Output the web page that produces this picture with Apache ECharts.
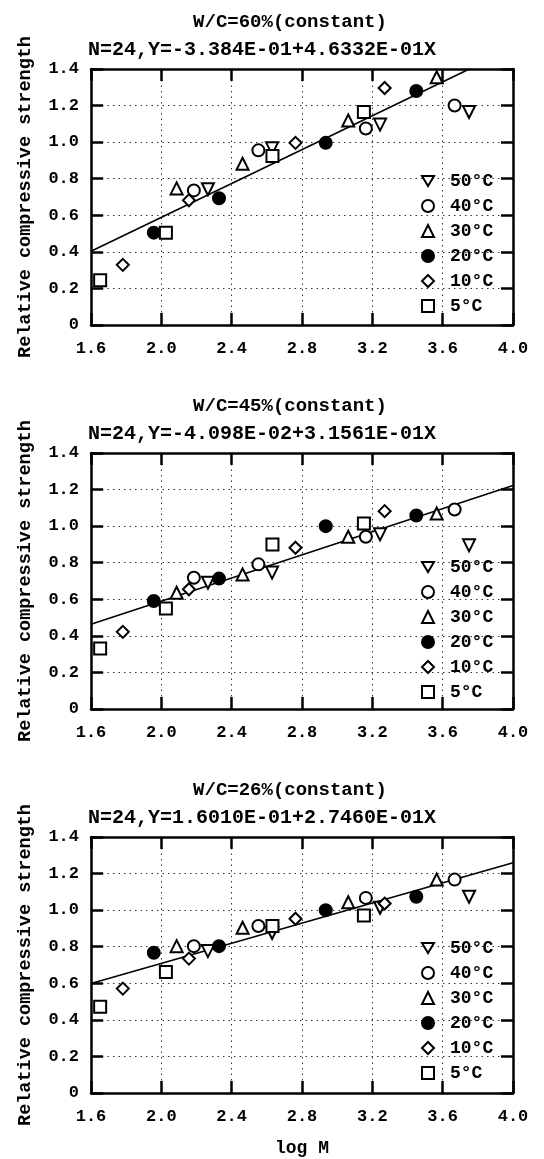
<!DOCTYPE html>
<html>
<head>
<meta charset="utf-8">
<script src="https://cdn.jsdelivr.net/npm/echarts@6/dist/echarts.min.js"></script>
<style>
    html, body { margin: 0; padding: 0; background: #fff; }
    #chart { width: 544px; height: 1159px; }
</style>
</head>
<body>
<div id="chart"></div>
<script>
// temperatures, legend order
const tempNames = ['50°C', '40°C', '30°C', '20°C', '10°C', '5°C'];

// log M (same curing ages for every W/C)
const logM50 = [2.265, 2.630, 3.244, 3.750];
const logM40 = [2.185, 2.552, 3.163, 3.668];
const logM30 = [2.087, 2.462, 3.063, 3.566];
const logM20 = [1.957, 2.328, 2.935, 3.450];
const logM10 = [1.781, 2.157, 2.763, 3.270];
const logM5 = [1.652, 2.026, 2.632, 3.152];

// relative compressive strength, W/C=60%
const wc60_50 = [0.742, 0.966, 1.096, 1.165];
const wc60_40 = [0.736, 0.955, 1.075, 1.200];
const wc60_30 = [0.747, 0.882, 1.118, 1.355];
const wc60_20 = [0.505, 0.693, 0.996, 1.280];
const wc60_10 = [0.329, 0.682, 0.996, 1.296];
const wc60_5 = [0.245, 0.505, 0.924, 1.165];

// W/C=45%
const wc45_50 = [0.691, 0.746, 0.955, 0.895];
const wc45_40 = [0.718, 0.791, 0.942, 1.091];
const wc45_30 = [0.636, 0.736, 0.942, 1.069];
const wc45_20 = [0.591, 0.713, 1.000, 1.058];
const wc45_10 = [0.422, 0.655, 0.882, 1.082];
const wc45_5 = [0.331, 0.549, 0.900, 1.015];

// W/C=26%
const wc26_50 = [0.776, 0.875, 1.013, 1.073];
const wc26_40 = [0.803, 0.913, 1.067, 1.167];
const wc26_30 = [0.803, 0.904, 1.043, 1.167];
const wc26_20 = [0.767, 0.803, 1.000, 1.073];
const wc26_10 = [0.571, 0.735, 0.953, 1.036];
const wc26_5 = [0.472, 0.662, 0.913, 0.971];

// regression lines (end points)
const fit60 = [[1.6, 0.403], [3.752, 1.4]];
const fit45 = [[1.6, 0.464], [4.0, 1.222]];
const fit26 = [[1.6, 0.599], [4.0, 1.259]];

const titles = ['W/C=60%(constant)', 'W/C=45%(constant)', 'W/C=26%(constant)'];
const equations = [
    'N=24,Y=-3.384E-01+4.6332E-01X',
    'N=24,Y=-4.098E-02+3.1561E-01X',
    'N=24,Y=1.6010E-01+2.7460E-01X'
];

const logM = [logM50, logM40, logM30, logM20, logM10, logM5];
const panelValues = [
    [wc60_50, wc60_40, wc60_30, wc60_20, wc60_10, wc60_5],
    [wc45_50, wc45_40, wc45_30, wc45_20, wc45_10, wc45_5],
    [wc26_50, wc26_40, wc26_30, wc26_20, wc26_10, wc26_5]
];
const fits = [fit60, fit45, fit26];

////////////////////////////////////////////
/////////////  layout / style  /////////////
////////////////////////////////////////////

const FONT = '"Liberation Mono", monospace';
const gridTops = [69, 453, 837];
const gridHeight = 256;
const legendTops = [167, 553, 934];

const symbolStyles = [
    { symbol: 'triangle', rotate: 180, fill: '#fff' },
    { symbol: 'circle', rotate: 0, fill: '#fff' },
    { symbol: 'triangle', rotate: 0, fill: '#fff' },
    { symbol: 'circle', rotate: 0, fill: '#000' },
    { symbol: 'diamond', rotate: 0, fill: '#fff' },
    { symbol: 'rect', rotate: 0, fill: '#fff' }
];
// legend needs its own down-pointing triangle
const downTriangle = 'path://M0,0L12,0L6,10Z';

const frameLine = { show: true, onZero: false, lineStyle: { color: '#000', width: 2.5 } };
const insideTick = { show: true, inside: true, length: 12, lineStyle: { color: '#000', width: 2.5 } };
const dotted = { show: true, lineStyle: { color: '#333', width: 1, type: [1.5, 4] } };

let grids = [], xAxes = [], yAxes = [], series = [], legends = [], graphics = [];

for (let p = 0; p < 3; p++) {
    grids.push({ left: 91, right: 31, top: gridTops[p], height: gridHeight });

    // bottom x axis (labels) + top x axis (ticks only)
    xAxes.push({
        type: 'value', gridIndex: p, min: 1.6, max: 4.0, interval: 0.4,
        axisLine: frameLine, axisTick: insideTick, splitLine: dotted,
        axisLabel: {
            margin: 15, color: '#000', fontFamily: FONT, fontWeight: 'bold', fontSize: 17,
            formatter: v => v.toFixed(1)
        },
        name: p === 2 ? 'log M' : '',
        nameLocation: 'middle', nameGap: 46,
        nameTextStyle: { color: '#000', fontFamily: FONT, fontWeight: 'bold', fontSize: 18 }
    });
    xAxes.push({
        type: 'value', gridIndex: p, position: 'top', min: 1.6, max: 4.0, interval: 0.4,
        axisLine: frameLine, axisTick: insideTick, splitLine: { show: false },
        axisLabel: { show: false }
    });

    // left y axis (labels) + right y axis (ticks only)
    yAxes.push({
        type: 'value', gridIndex: p, min: 0, max: 1.4, interval: 0.2,
        axisLine: frameLine, axisTick: insideTick, splitLine: dotted,
        axisLabel: {
            margin: 12, color: '#000', fontFamily: FONT, fontWeight: 'bold', fontSize: 17,
            formatter: v => v === 0 ? '0' : v.toFixed(1)
        },
        name: 'Relative compressive strength',
        nameLocation: 'middle', nameRotate: 90, nameGap: 56,
        nameTextStyle: { color: '#000', fontFamily: FONT, fontWeight: 'bold', fontSize: 18.5 }
    });
    yAxes.push({
        type: 'value', gridIndex: p, position: 'right', min: 0, max: 1.4, interval: 0.2,
        axisLine: frameLine, axisTick: insideTick, splitLine: { show: false },
        axisLabel: { show: false }
    });

    // regression line
    series.push({
        type: 'line', name: 'fit' + p, xAxisIndex: p * 2, yAxisIndex: p * 2,
        data: fits[p], symbol: 'none', silent: true, z: 1,
        lineStyle: { color: '#000', width: 1.6 }
    });

    // measured points
    for (let t = 0; t < 6; t++) {
        const s = symbolStyles[t];
        series.push({
            type: 'scatter', name: tempNames[t], xAxisIndex: p * 2, yAxisIndex: p * 2,
            data: logM[t].map((x, k) => [x, panelValues[p][t][k]]),
            symbol: s.symbol, symbolRotate: s.rotate, symbolSize: 12, z: 3,
            itemStyle: { color: s.fill, borderColor: '#000', borderWidth: 2, opacity: 1 }
        });
    }

    legends.push({
        orient: 'vertical', left: 416, top: legendTops[p],
        itemWidth: 12, itemHeight: 12, itemGap: 7,
        selectedMode: false, symbolRotate: 0,
        data: tempNames.map((n, i) => i === 0 ? { name: n, icon: downTriangle } : n),
        textStyle: { color: '#000', fontFamily: FONT, fontWeight: 'bold', fontSize: 18, padding: [0, 0, 0, 11] }
    });

    graphics.push({
        type: 'text', x: 290, y: gridTops[p] - 47,
        style: { text: titles[p], font: 'bold 19px ' + FONT, fill: '#000', textAlign: 'center', textVerticalAlign: 'middle' }
    });
    graphics.push({
        type: 'text', x: 88, y: gridTops[p] - 19,
        style: { text: equations[p], font: 'bold 20px ' + FONT, fill: '#000', textAlign: 'left', textVerticalAlign: 'middle' }
    });
}

const chart = echarts.init(document.getElementById('chart'), null, { renderer: 'canvas' });
chart.setOption({
    animation: false,
    backgroundColor: '#fff',
    grid: grids,
    xAxis: xAxes,
    yAxis: yAxes,
    legend: legends,
    graphic: graphics,
    series: series
});
</script>
</body>
</html>
